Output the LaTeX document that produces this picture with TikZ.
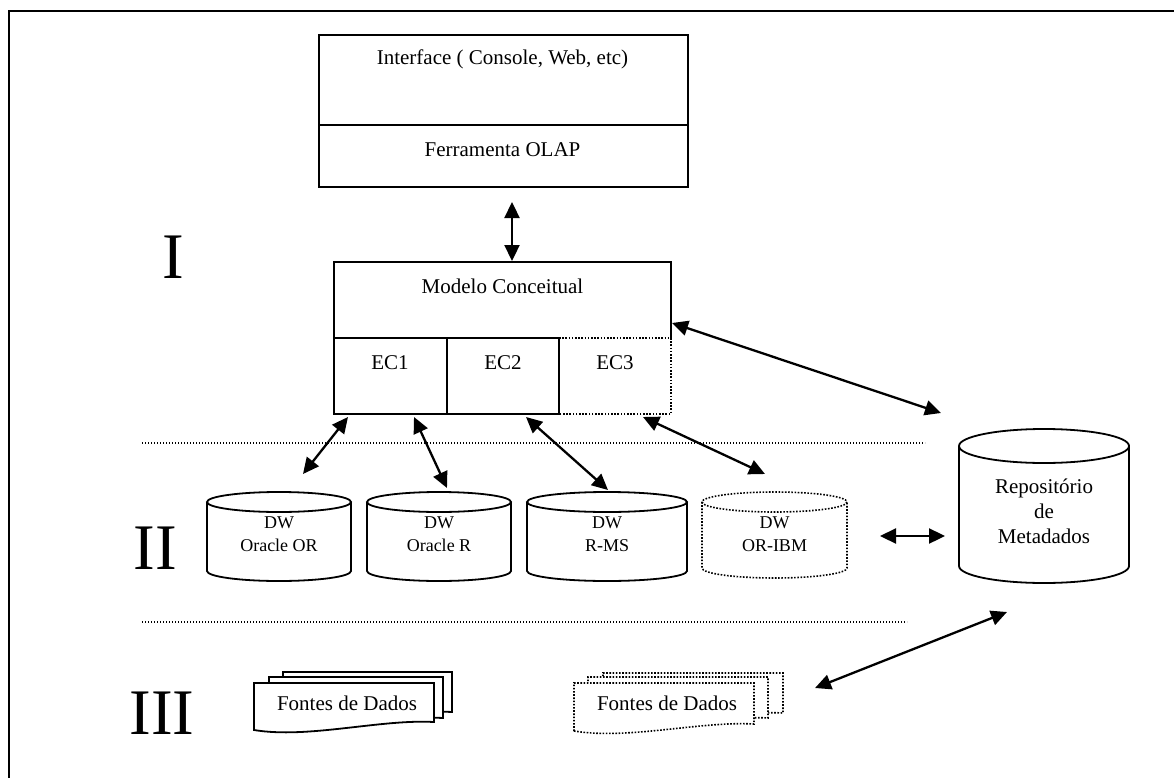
\documentclass[tikz,border=0pt]{standalone}
\usepackage{fontspec}
\setmainfont{Liberation Serif}
\usetikzlibrary{arrows.meta}
\tikzset{
 ln/.style={line width=1.8pt},
 dots/.style={line width=1.6pt, dash pattern=on 1.6pt off 1.6pt},
 sepline/.style={line width=1.2pt, dash pattern=on 1.2pt off 1.8pt},
 lbl/.style={font=\fontsize{21}{25}\selectfont, inner sep=0pt, align=center},
 dwlbl/.style={font=\fontsize{18}{23}\selectfont, inner sep=0pt, align=center},
 roman/.style={font=\fontsize{65}{70}\selectfont, inner sep=0pt},
 dbl/.style={{Triangle[length=16pt,width=15pt]}-{Triangle[length=16pt,width=15pt]}, line width=2.3pt},
}
% style, cx, rx, ytop, ybot, ry
\newcommand\drawcyl[6]{%
 \draw[#1] ({#2-#3},#4) -- ({#2-#3},#5) arc[start angle=180,end angle=0,x radius=#3,y radius=#6] -- ({#2+#3},#4);
 \draw[#1] (#2,#4) ellipse[x radius=#3, y radius=#6];}
% style, x1, ytop, x2, yright, yleft
\newcommand\docshp[6]{%
 \draw[#1, fill=white] (#2,#6) -- (#2,#3) -- (#4,#3) -- (#4,#5)
   .. controls ({#4-0.3*(#4-#2)},{#5-3}) and ({#2+0.3*(#4-#2)},{#6+9}) .. (#2,#6) -- cycle;}
\begin{document}
\begin{tikzpicture}[x=1pt,y=-1pt]
\useasboundingbox (0,0) rectangle (1174,778);
% frame
\draw[line width=1.8pt] (9,778) -- (9,11) -- (1174,11);

% top box
\node (ui) [draw, ln, anchor=north west, minimum width=369pt, minimum height=152pt, inner sep=0pt] at (318,34) {};
\draw[ln] (318,125) -- (687,125);
\node (uitxt) [lbl] at (502.5,59) {Interface ( Console, Web, etc)};
\node (olap) [lbl] at (502.5,150) {Ferramenta OLAP};

% conceptual model
\node (mc) [anchor=north west, minimum width=337pt, minimum height=76pt, inner sep=0pt] at (334,262) {};
\draw[ln] (334,338) -- (334,262) -- (671,262) -- (671,338);
\draw[ln] (334,338) -- (559,338);
\draw[ln] (334,338) -- (334,414) -- (559,414) -- (559,338);
\draw[ln] (447,338) -- (447,414);
\draw[dots] (559,338) -- (671,338) -- (671,414) -- (559,414);
\node (mctxt) [lbl] at (502.5,286) {Modelo Conceitual};
\node (ec1) [lbl] at (390,363) {EC1};
\node (ec2) [lbl] at (503,363) {EC2};
\node (ec3) [lbl] at (615,363) {EC3};

% separators
\coordinate (s1a) at (142,443); \coordinate (s1b) at (925,443);
\coordinate (s2a) at (142,622); \coordinate (s2b) at (907,622);
\draw[sepline] (s1a) -- (s1b);
\draw[sepline] (s2a) -- (s2b);

% roman numerals
\node (r1) [roman] at (173,257) {I};
\node (r2) [roman] at (155,548) {II};
\node (r3) [roman] at (162,713) {III};

% cylinders
\drawcyl{ln}{279}{72}{502}{571}{10}
\drawcyl{ln}{439}{72}{502}{571}{10}
\drawcyl{ln}{607}{80}{502}{571}{10}
\drawcyl{dots}{774.5}{72.5}{502}{568}{10}
\drawcyl{ln}{1044}{85}{446}{566}{17}
\node (dw1) [dwlbl] at (279,534) {DW\\Oracle OR};
\node (dw2) [dwlbl] at (439,534) {DW\\Oracle R};
\node (dw3) [dwlbl] at (607,534) {DW\\R-MS};
\node (dw4) [dwlbl] at (774.5,534) {DW\\OR-IBM};
\node (repo) [lbl] at (1044,511) {Repositório\\de\\Metadados};

% data sources
\docshp{ln}{283}{672}{452}{712}{720}
\docshp{ln}{269}{677}{443}{718}{726}
\docshp{ln}{254}{683}{434}{722}{730}
\node (fd1) [lbl] at (347,703) {Fontes de Dados};
\docshp{dots}{603}{673}{783}{713}{721}
\docshp{dots}{588}{677}{768}{718}{726}
\docshp{dots}{574}{683}{754}{724}{731}
\node (fd2) [lbl] at (667,703) {Fontes de Dados};

% arrow end points
\coordinate (a1s) at (512,202); \coordinate (a1e) at (512,261);
\coordinate (a2s) at (672,323); \coordinate (a2e) at (941,413);
\coordinate (a3s) at (348,417); \coordinate (a3e) at (303,474);
\coordinate (a4s) at (414,417); \coordinate (a4e) at (447,488);
\coordinate (a5s) at (526,417); \coordinate (a5e) at (608,490);
\coordinate (a6s) at (643,417); \coordinate (a6e) at (765,474);
\coordinate (a7s) at (880,536); \coordinate (a7e) at (945,536);
\coordinate (a8s) at (1007,612); \coordinate (a8e) at (815,688);
\foreach \i in {1,...,8} {\draw[dbl] (a\i s) -- (a\i e);}
\end{tikzpicture}
\end{document}
